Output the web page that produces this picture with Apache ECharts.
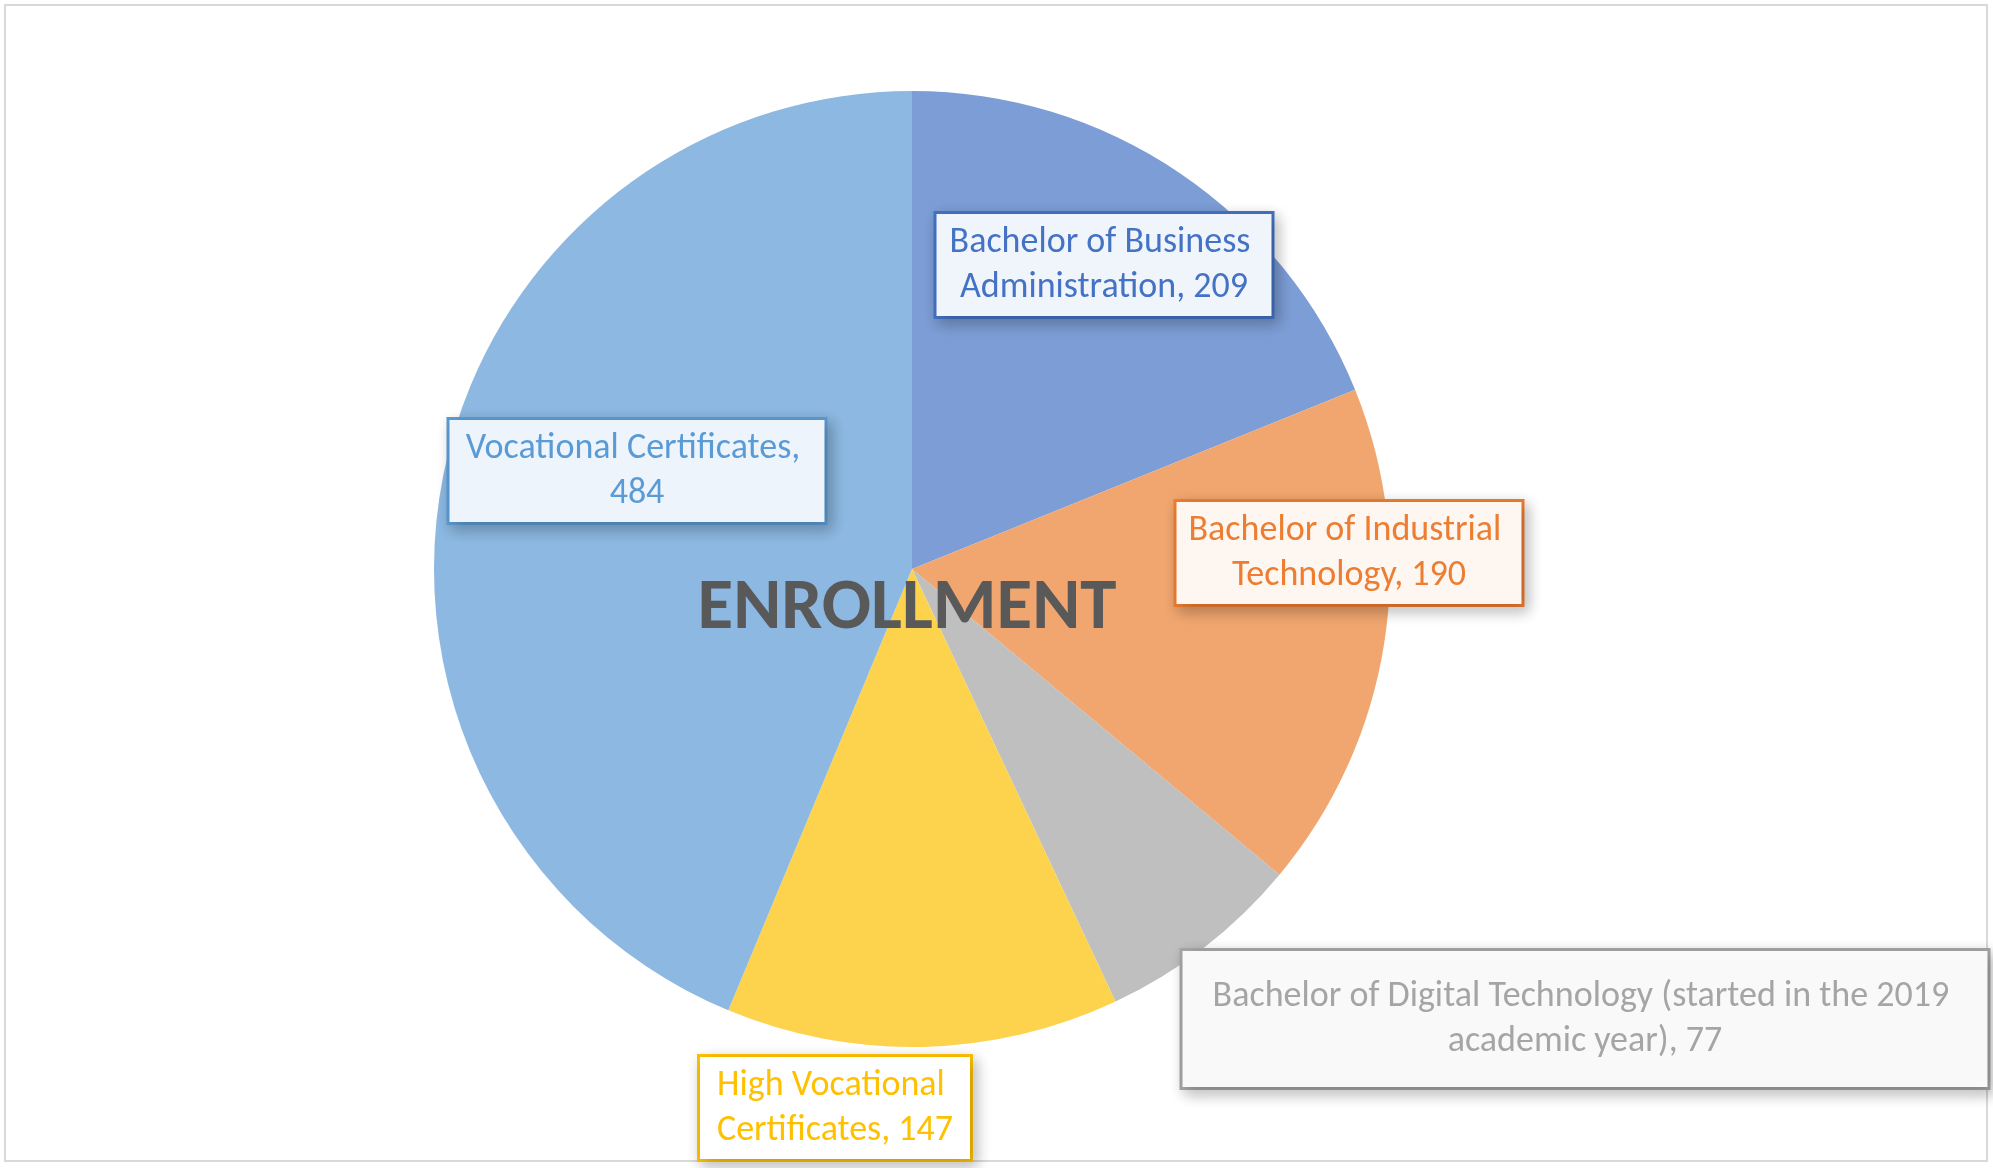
<!DOCTYPE html>
<html>
<head>
<meta charset="utf-8">
<script src="https://cdn.jsdelivr.net/npm/echarts@6/dist/echarts.min.js"></script>
<style>
  html, body { margin: 0; padding: 0; background: #fff; }
  #chart { width: 1993px; height: 1168px; }
</style>
</head>
<body>
<div id="chart"></div>
<script>
// programmes, clockwise from 12 o'clock
var programmes = [
    'Bachelor of Business Administration',
    'Bachelor of Industrial Technology',
    'Bachelor of Digital Technology (started in the 2019 academic year)',
    'High Vocational Certificates',
    'Vocational Certificates'
];
var enrollment = [209, 190, 77, 147, 484];

var sliceColors = ['#7C9DD5', '#F1A66F', '#BFBFBF', '#FDD34D', '#8CB8E1'];
var labelColors = ['#4472C4', '#ED7D31', '#A5A5A5', '#FFC000', '#5B9BD5'];
var labelFills  = ['#F0F4FB', '#FEF6F0', '#F9F9F9', '#FFFFFF', '#EEF4FB'];

// where each callout box sits (centre, px) and how wide its text is
var labelPos   = [[1104, 265], [1349, 553], [1585, 1019], [835, 1108], [637, 471]];
var labelWidth = [315, 325, 785, 250, 355];

var myChart = echarts.init(document.getElementById('chart'));

var pieData = programmes.map(function (name, i) {
    return {
        name: name,
        value: enrollment[i],
        itemStyle: { color: sliceColors[i] },
        label: {
            color: labelColors[i],
            borderColor: labelColors[i],
            backgroundColor: labelFills[i],
            width: labelWidth[i],
            padding: i === 2 ? [23, 10, 23, 10] : [6, 10, 6, 10]
        }
    };
});

var option = {
    animation: false,
    backgroundColor: '#ffffff',
    title: {
        text: 'ENROLLMENT',
        left: 902,
        top: 568,
        textAlign: 'center',
        textStyle: {
            fontFamily: 'Carlito, "Open Sans", sans-serif',
            fontSize: 73,
            fontWeight: 'bold',
            color: '#595959'
        }
    },
    graphic: [{
        type: 'rect',
        shape: { x: 5, y: 5, width: 1982, height: 1156 },
        style: { fill: 'none', stroke: '#D9D9D9', lineWidth: 2 },
        z: -1
    }],
    series: [{
        type: 'pie',
        center: [912, 569],
        radius: [0, 478],
        startAngle: 90,
        clockwise: true,
        data: pieData,
        labelLine: { show: false },
        label: {
            show: true,
            position: 'outside',
            formatter: '{b}, {c}',
            fontFamily: 'Carlito, "Open Sans", sans-serif',
            fontSize: 36,
            lineHeight: 45,
            align: 'center',
            overflow: 'break',
            borderWidth: 3,
            shadowColor: 'rgba(0,0,0,0.22)',
            shadowBlur: 14,
            shadowOffsetX: 4,
            shadowOffsetY: 5
        },
        labelLayout: function (params) {
            var p = labelPos[params.dataIndex];
            return { x: p[0], y: p[1], align: 'center', verticalAlign: 'middle' };
        },
        emphasis: { disabled: true }
    }]
};
myChart.setOption(option);
</script>
</body>
</html>
